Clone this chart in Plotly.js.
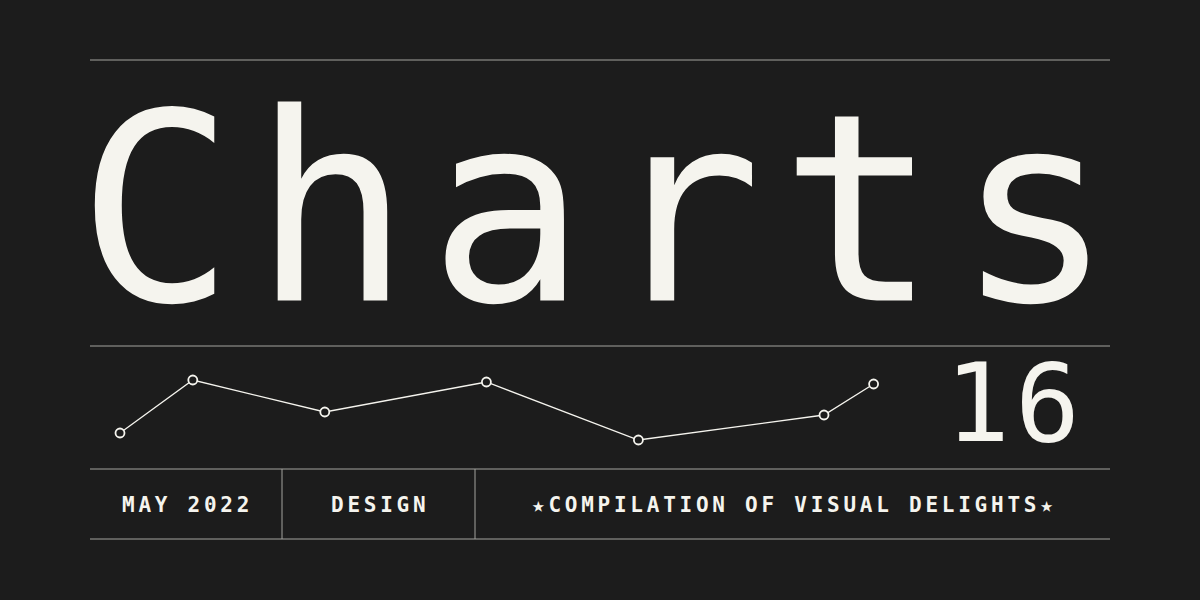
<!DOCTYPE html>
<html>
<head>
<meta charset="utf-8">
<script src="https://cdn.plot.ly/plotly-3.0.1.min.js"></script>
<style>html,body{margin:0;padding:0;background:#1c1c1c;}#chart{width:1200px;height:600px;}</style>
</head>
<body>
<div id="chart"></div>
<script>
// ---- data ----
const sparkX = [2.5, 11.6, 28.1, 48.3, 67.3, 90.5, 96.7];
const sparkY = [27, 80, 48, 78, 20, 45, 76];
const titleText = "Charts";
const issueNumber = "16";
const footerLabels = ["MAY 2022", "DESIGN", "\u2605COMPILATION OF VISUAL DELIGHTS\u2605"];

// ---- layout helpers (pixel -> paper) ----
const W = 1200, H = 600;
const px = v => v / W;
const py = v => 1 - v / H;
const ruleColor = "#a3a39e";
const ink = "#f5f4ee";

const shapes = [];
[60, 346, 469, 539].forEach(y => shapes.push({
  type: "line", xref: "paper", yref: "paper",
  x0: px(90), x1: px(1110), y0: py(y), y1: py(y),
  line: {color: ruleColor, width: 1}
}));
[282, 475].forEach(x => shapes.push({
  type: "line", xref: "paper", yref: "paper",
  x0: px(x), x1: px(x), y0: py(469), y1: py(539),
  line: {color: ruleColor, width: 1}
}));

const cellCenters = [186, 378.5, 792.5];
const annotations = [
  {
    xref: "paper", yref: "paper", x: px(604), y: py(210),
    xanchor: "center", yanchor: "middle", showarrow: false, height: 250,
    text: '<span style="letter-spacing:18px">' + titleText + '</span>',
    font: {family: "DejaVu Sans Mono", size: 262, color: ink}
  },
  {
    xref: "paper", yref: "paper", x: px(1015), y: py(403),
    xanchor: "center", yanchor: "middle", showarrow: false, height: 100,
    text: '<span style="letter-spacing:5px">' + issueNumber + '</span>',
    font: {family: "DejaVu Sans Mono", size: 108, color: ink}
  }
];
footerLabels.forEach((t, i) => annotations.push({
  xref: "paper", yref: "paper", x: px(cellCenters[i] + 1.5), y: py(505),
  xanchor: "center", yanchor: "middle", showarrow: false,
  text: '<span style="letter-spacing:3.75px">' + t + '</span>',
  font: {family: "DejaVu Sans Mono", size: 21, color: ink, weight: 700}
}));

const trace = {
  x: sparkX, y: sparkY, type: "scatter", mode: "lines+markers",
  cliponaxis: false, hoverinfo: "skip",
  line: {color: ink, width: 1.3},
  marker: {symbol: "circle", size: 9, color: "#1c1c1c", line: {color: ink, width: 1.8}}
};

const layout = {
  width: W, height: H,
  margin: {l: 0, r: 0, t: 0, b: 0},
  paper_bgcolor: "#1c1c1c", plot_bgcolor: "rgba(0,0,0,0)",
  showlegend: false,
  xaxis: {domain: [px(100), px(900)], range: [0, 100], visible: false, fixedrange: true},
  yaxis: {domain: [py(460), py(360)], range: [0, 100], visible: false, fixedrange: true},
  shapes: shapes,
  annotations: annotations
};

Plotly.newPlot("chart", [trace], layout, {displayModeBar: false, staticPlot: true});
</script>
</body>
</html>
